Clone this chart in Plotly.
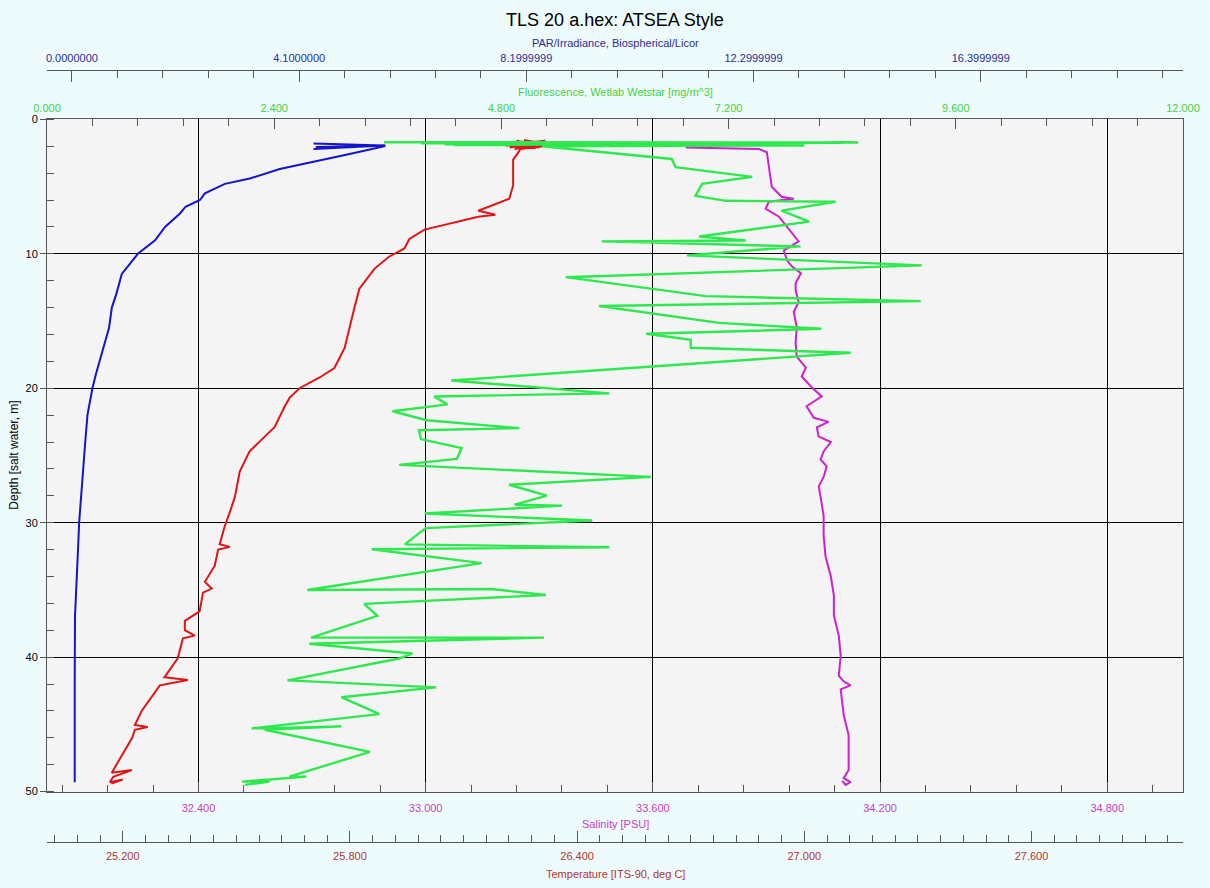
import plotly.graph_objects as go

# ---------------- data ----------------
par_depth = [1.95, 1.80, 1.95, 2.20, 1.95, 2.05, 1.95, 2.15, 1.95, 2.0, 2.6, 3.7, 4.4, 4.8, 5.5,
             6.0, 6.5, 7.0, 8.0, 9.0, 10.0, 11.5, 13.0, 14.0, 15.5, 16.5, 18.0, 19.0, 20.0,
             21.0, 22.0, 24.0, 26.0, 28.0, 30.0, 32.0, 34.0, 36.0, 37.0, 42.0, 49.3]
par_value = [5.64, 4.36, 5.64, 4.36, 5.64, 4.40, 5.64, 4.50, 5.64, 5.64, 4.99, 3.75, 3.21, 2.76,
             2.40, 2.31, 2.05, 1.95, 1.68, 1.50, 1.19, 0.90, 0.80, 0.72, 0.67, 0.60, 0.50,
             0.43, 0.37, 0.33, 0.28, 0.24, 0.20, 0.16, 0.13, 0.11, 0.09, 0.07, 0.055, 0.05,
             0.05]

temp_depth = [1.9, 1.6, 2.1, 1.7, 2.2, 1.8, 1.55, 2.15, 1.7, 2.0, 1.6, 2.1, 1.75, 2.15, 1.65,
              1.95, 1.85, 2.2, 1.7, 2.0, 2.2, 2.5, 3.0, 4.9, 5.9, 6.8,
              7.1, 7.25, 8.2, 8.9, 9.6, 10.2, 11.1, 12.6, 14.0, 15.5, 17.0, 18.5, 19.2, 20.0,
              20.7, 21.4, 22.9, 23.6, 24.7, 26.2, 28.1, 29.2, 30.3, 31.6, 31.8, 32.0, 33.2,
              34.4, 34.9, 35.2, 36.6, 37.3, 38.0, 38.4, 38.6, 40.1, 41.5, 41.7, 42.1, 44.0,
              45.05, 45.2, 45.4, 46.0, 47.5, 48.6, 48.4, 48.9, 49.3, 49.1, 49.4]
temp_value = [26.215, 26.316, 26.222, 26.300, 26.235, 26.316, 26.260, 26.290, 26.225, 26.310,
              26.240, 26.300, 26.218, 26.270, 26.280, 26.212, 26.316, 26.250, 26.230, 26.310,
              26.250, 26.244, 26.231, 26.231, 26.221, 26.139, 26.184, 26.139, 25.997, 25.957,
              25.944, 25.904, 25.865, 25.825, 25.812, 25.799, 25.786, 25.759, 25.720, 25.667,
              25.641, 25.627, 25.601, 25.575, 25.535, 25.509, 25.496, 25.483, 25.469, 25.456,
              25.483, 25.452, 25.443, 25.417, 25.435, 25.412, 25.403, 25.364, 25.364, 25.390,
              25.359, 25.345, 25.310, 25.372, 25.298, 25.250, 25.232, 25.266, 25.232, 25.225,
              25.195, 25.171, 25.224, 25.175, 25.166, 25.200, 25.170]

sal_depth = [2.10, 2.20, 2.45, 4.28, 5.02, 5.76, 5.91, 6.13, 6.65, 7.24, 7.98, 8.71, 9.08, 9.75,
             10.49, 10.93, 11.45, 12.19, 12.70, 13.59, 14.33, 15.44, 16.62, 17.65, 18.46,
             19.13, 19.94, 20.61, 21.34, 22.2, 22.5, 22.9, 23.6, 24.0, 24.7, 25.3, 25.8, 26.6,
             27.3, 28.1, 29.5, 31.0, 32.5, 34.0, 35.4, 36.9, 38.4, 39.9, 41.4, 41.8, 42.1,
             42.4, 44.3, 45.8, 47.3, 48.4, 49.0, 49.3, 49.5, 49.2]
sal_value = [33.687, 33.880, 33.901, 33.911, 33.914, 33.940, 33.972, 33.906, 33.898, 33.933,
             33.954, 33.977, 33.985, 33.946, 33.954, 33.967, 33.991, 33.977, 33.977, 33.985,
             33.972, 33.980, 33.977, 33.980, 34.004, 33.993, 34.020, 34.046, 34.006, 34.025,
             34.064, 34.033, 34.038, 34.070, 34.051, 34.043, 34.059, 34.051, 34.038, 34.043,
             34.051, 34.051, 34.056, 34.070, 34.078, 34.078, 34.091, 34.096, 34.091, 34.104,
             34.122, 34.096, 34.104, 34.117, 34.117, 34.117, 34.104, 34.122, 34.109, 34.100]

fl_depth = [1.70, 1.72, 1.78, 1.74, 1.82, 1.76, 1.86, 1.74, 1.90, 1.80, 1.70, 1.88, 1.76,
            1.92, 1.72, 1.84, 1.95, 2.00,
            2.95, 3.55, 4.28, 4.80, 5.69, 6.06, 6.13, 6.79, 7.61, 8.71,
            9.01, 9.08, 9.45, 9.97, 10.12, 10.86, 11.74, 13.15, 13.52, 13.88,
            15.14, 15.58, 15.95, 16.40, 16.99, 17.36, 19.42, 20.38, 20.61, 21.20,
            21.71, 22.38, 22.97, 23.12, 23.78, 24.45, 25.26, 25.70, 26.59, 27.18,
            27.99, 28.66, 28.73, 29.32, 29.84, 30.40, 31.61, 31.83, 31.98, 33.01,
            35.01, 34.93, 35.38, 36.04, 36.93, 38.55, 38.55, 39.00, 39.73, 40.10,
            41.73, 42.25, 42.98, 44.24, 45.30, 45.15, 45.40, 47.05, 48.89, 48.89,
            49.26, 49.26, 49.50]
fl_value = [3.56, 8.57, 3.95, 8.40, 4.10, 7.60, 4.20, 8.20, 4.60, 7.00, 8.50, 4.40, 8.30,
            4.30, 7.80, 4.50, 8.00, 5.23,
            6.60, 6.64, 7.45, 6.92, 6.85, 7.17, 8.33, 7.76, 8.05, 6.89,
            7.38, 5.86, 7.96, 7.10, 6.76, 9.24, 5.48, 6.96, 9.23, 5.83,
            7.10, 8.18, 6.33, 6.80, 6.80, 8.49, 4.27, 5.94, 4.09, 4.23,
            3.65, 4.01, 4.99, 3.93, 3.95, 4.38, 4.33, 3.72, 6.38, 4.88,
            5.28, 4.94, 5.44, 3.99, 5.76, 4.00, 3.78, 5.94, 3.43, 4.59,
            2.75, 4.69, 5.27, 3.35, 3.49, 2.79, 5.25, 2.77, 3.86, 3.72,
            2.54, 4.11, 3.11, 3.51, 2.16, 3.11, 2.30, 3.41, 2.56, 2.74,
            2.06, 2.35, 2.09]

par_ticks = [0.0, 4.1, 8.2, 12.3, 16.4]
par_ticktext = ["0.0000000", "4.1000000", "8.1999999", "12.2999999", "16.3999999"]
depth_ticks = [0, 10, 20, 30, 40, 50]

# ---------------- style ----------------
FONT = "Liberation Sans, Arial, sans-serif"
C_PAR = "#2b2b96"
C_FL = "#3fd23f"
C_SAL = "#c93cc9"
C_TEMP = "#b03434"
AXC = "#555555"

fig = go.Figure()
fig.add_trace(go.Scatter(x=sal_value, y=sal_depth, xaxis="x", yaxis="y", mode="lines",
                         line=dict(color="#cc22cc", width=2), name="Salinity"))
fig.add_trace(go.Scatter(x=fl_value, y=fl_depth, xaxis="x3", yaxis="y", mode="lines",
                         line=dict(color="#2fe84f", width=2.4), name="Fluorescence"))
fig.add_trace(go.Scatter(x=par_value, y=par_depth, xaxis="x4", yaxis="y", mode="lines",
                         line=dict(color="#1414c8", width=2), name="PAR"))
fig.add_trace(go.Scatter(x=temp_value, y=temp_depth, xaxis="x2", yaxis="y", mode="lines",
                         line=dict(color="#e01414", width=2), name="Temperature"))

tickfont = lambda c: dict(family=FONT, size=11, color=c)

fig.update_layout(
    width=1210, height=888,
    margin=dict(l=47, r=25, t=30, b=10),
    paper_bgcolor="#eefbfc",
    plot_bgcolor="#f4f4f4",
    showlegend=False,
    font=dict(family=FONT, size=11, color="#000000"),
    title=dict(text="TLS 20 a.hex: ATSEA Style", x=0.5, xref="paper", y=1 - 20 / 888,
               yanchor="middle", font=dict(family=FONT, size=18, color="#000000")),
    yaxis=dict(domain=[0.0955, 0.8939], range=[50, 0], tickvals=depth_ticks,
               ticks="outside", ticklen=6, tickcolor=AXC, showline=True, linecolor=AXC,
               mirror=True, showgrid=True, gridcolor="#000000", gridwidth=1,
               zeroline=False, tickfont=tickfont("#000000"),
               minor=dict(dtick=2, tick0=0, ticks="inside", ticklen=7, tickcolor=AXC,
                          showgrid=False)),
    xaxis=dict(range=[32.0, 35.0], tick0=32.4, dtick=0.6, tickformat=".3f",
               side="bottom", anchor="y", ticks="inside", ticklen=10, tickcolor=AXC,
               showline=True, linecolor=AXC, showgrid=True, gridcolor="#000000",
               gridwidth=1, zeroline=False, tickfont=tickfont(C_SAL), ticklabelstandoff=6,
               minor=dict(dtick=0.12, tick0=32.4, ticks="inside", ticklen=7, tickcolor=AXC,
                          showgrid=False)),
    xaxis2=dict(range=[25.0, 28.0], tick0=25.2, dtick=0.6, tickformat=".3f",
                overlaying="x", anchor="free", position=0.0354, side="bottom",
                ticks="inside", ticklen=11, tickcolor=AXC, showline=True, linecolor=AXC,
                showgrid=False, zeroline=False, tickfont=tickfont(C_TEMP), ticklabelstandoff=4,
                minor=dict(dtick=0.06, tick0=25.2, ticks="inside", ticklen=7, tickcolor=AXC)),
    xaxis3=dict(range=[0.0, 12.0], tick0=0, dtick=2.4, tickformat=".3f",
                overlaying="x", anchor="y", side="top", ticks="inside", ticklen=10,
                tickcolor=AXC, showline=True, linecolor=AXC, showgrid=False, zeroline=False,
                tickfont=tickfont(C_FL), ticklabelstandoff=2,
                minor=dict(dtick=0.48, tick0=0, ticks="inside", ticklen=7, tickcolor=AXC)),
    xaxis4=dict(range=[-0.45, 20.05], tickmode="array", tickvals=par_ticks,
                ticktext=par_ticktext, overlaying="x", anchor="free", position=0.9528,
                side="top", ticks="inside", ticklen=11, tickcolor=AXC, showline=True,
                linecolor=AXC, showgrid=False, zeroline=False, tickfont=tickfont(C_PAR),
                ticklabelstandoff=3,
                minor=dict(dtick=0.82, tick0=0, ticks="inside", ticklen=7, tickcolor=AXC)),
)

ann = [
    ("PAR/Irradiance, Biospherical/Licor", 0.5, (878 - 43) / 848, C_PAR),
    ("Fluorescence, Wetlab Wetstar [mg/m^3]", 0.5, (878 - 92) / 848, C_FL),
    ("Salinity [PSU]", 0.5, (878 - 830) / 848, C_SAL),
    ("Temperature [ITS-90, deg C]", 0.5, (878 - 880) / 848, C_TEMP),
]
for text, x, y, c in ann:
    fig.add_annotation(text=text, x=x, y=y, xref="paper", yref="paper", showarrow=False,
                       xanchor="center", yanchor="middle",
                       font=dict(family=FONT, size=11, color=c))
fig.add_annotation(text="Depth [salt water, m]", x=(14 - 47) / 1138, y=0.4945, xref="paper",
                   yref="paper", showarrow=False, textangle=-90, xanchor="center",
                   yanchor="middle", font=dict(family=FONT, size=12, color="#000000"))

fig.write_html("out.html")
